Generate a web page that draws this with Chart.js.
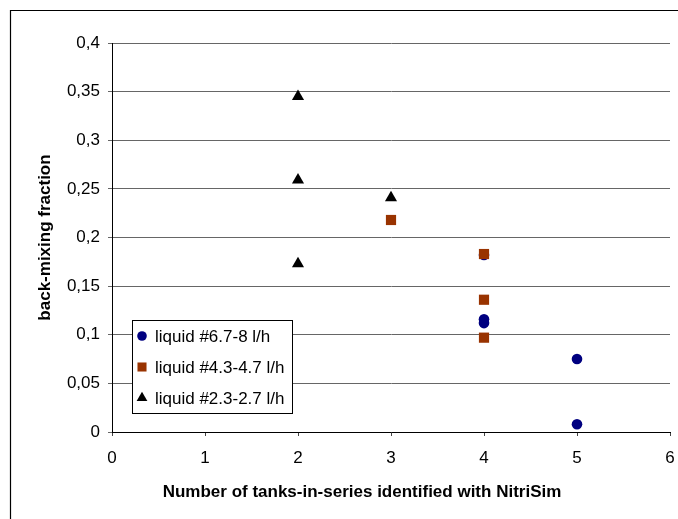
<!DOCTYPE html>
<html><head><meta charset="utf-8">
<script src="https://cdn.jsdelivr.net/npm/chart.js@4.4.1/dist/chart.umd.min.js"></script>
<style>html,body{margin:0;padding:0;background:#fff;} #wrap{width:678px;height:519px;position:relative;overflow:hidden}</style>
</head><body><div id="wrap"><canvas id="c" width="678" height="519"></canvas></div>
<script>
const seriesLabels = ['liquid #6.7-8 l/h', 'liquid #4.3-4.7 l/h', 'liquid #2.3-2.7 l/h'];
const highX = [4, 4, 4, 5, 5];
const highY = [0.182, 0.116, 0.112, 0.075, 0.008];
const midX = [3, 4, 4, 4];
const midY = [0.218, 0.183, 0.136, 0.097];
const lowX = [2, 2, 2, 3];
const lowY = [0.345, 0.259, 0.173, 0.241];
const xTickLabels = ['0', '1', '2', '3', '4', '5', '6'];
const yTickLabels = ['0', '0,05', '0,1', '0,15', '0,2', '0,25', '0,3', '0,35', '0,4'];
const xTitle = 'Number of tanks-in-series identified with NitriSim';
const yTitle = 'back-mixing fraction';

const FONT = '"Liberation Sans", Arial, sans-serif';
const toPts = (xs, ys) => xs.map((x, i) => ({x: x, y: ys[i]}));

const frame = {
  id: 'frame',
  beforeDraw(chart) {
    const ctx = chart.ctx;
    ctx.save();
    ctx.strokeStyle = '#000';
    ctx.lineWidth = 1.2;
    ctx.beginPath();
    ctx.moveTo(10.5, 530);
    ctx.lineTo(10.5, 10.5);
    ctx.lineTo(690, 10.5);
    ctx.stroke();
    ctx.restore();
  },
  afterDraw(chart) {
    const ctx = chart.ctx;
    const a = chart.chartArea;
    ctx.save();
    // x axis title
    ctx.fillStyle = '#000';
    ctx.font = 'bold 17px ' + FONT;
    ctx.textAlign = 'center';
    ctx.textBaseline = 'middle';
    ctx.fillText(xTitle, a.left + 250, a.bottom + 60);
    // legend
    const lx = a.left + 20, ly = a.top + 277, lw = 160, lh = 93;
    ctx.fillStyle = '#fff';
    ctx.fillRect(lx, ly, lw, lh);
    ctx.strokeStyle = '#000';
    ctx.lineWidth = 1;
    ctx.strokeRect(lx + 0.5, ly + 0.5, lw, lh);
    const radii = [4.8, 6.4, 6.2];
    chart.data.datasets.forEach((ds, i) => {
      const cy = ly + 16 + i * 31;
      const cx = lx + 10;
      ctx.fillStyle = ds.backgroundColor;
      ctx.strokeStyle = ds.backgroundColor;
      if (Chart.helpers && Chart.helpers.drawPoint) {
        Chart.helpers.drawPoint(ctx, {pointStyle: ds.pointStyle, radius: radii[i], borderWidth: 0, rotation: 0}, cx, cy);
      }
      ctx.fillStyle = '#000';
      ctx.font = '17px ' + FONT;
      ctx.textAlign = 'left';
      ctx.textBaseline = 'middle';
      ctx.fillText(ds.label, lx + 23, cy + 1);
    });
    ctx.restore();
  }
};

new Chart(document.getElementById('c'), {
  type: 'scatter',
  data: {
    datasets: [
      {label: seriesLabels[0], data: toPts(highX, highY), pointStyle: 'circle', pointRadius: 5.3, pointHoverRadius: 5.3,
       backgroundColor: '#000080', borderColor: '#000080', borderWidth: 0, order: 3},
      {label: seriesLabels[1], data: toPts(midX, midY), pointStyle: 'rect', pointRadius: 7.2, pointHoverRadius: 7.2,
       backgroundColor: '#993300', borderColor: '#993300', borderWidth: 0, order: 2},
      {label: seriesLabels[2], data: toPts(lowX, lowY), pointStyle: 'triangle', pointRadius: 7, pointHoverRadius: 7,
       backgroundColor: '#000000', borderColor: '#000000', borderWidth: 0, order: 1}
    ]
  },
  options: {
    responsive: false,
    animation: false,
    devicePixelRatio: 1,
    layout: {padding: {left: 0, top: 43, right: 8, bottom: 0}},
    plugins: {legend: {display: false}, tooltip: {enabled: false}, title: {display: false}},
    scales: {
      x: {
        type: 'linear', min: 0, max: 6,
        afterFit(s) { s.height = 87; s.paddingRight = 5; s.paddingLeft = 0; },
        afterBuildTicks(s) { s.ticks = xTickLabels.map((t, i) => ({value: i})); },
        ticks: {stepSize: 1, autoSkip: false, maxRotation: 0, color: '#000', padding: 12,
                font: {family: FONT, size: 17},
                callback: (v, i) => xTickLabels[i]},
        grid: {drawOnChartArea: false, drawTicks: true, tickLength: 4, color: '#444'},
        border: {display: true, color: '#000', width: 1},
        title: {display: false}
      },
      y: {
        type: 'linear', min: 0, max: 0.4,
        afterFit(s) { s.width = 112; s.paddingTop = 0; s.paddingBottom = 0; },
        afterBuildTicks(s) { s.ticks = yTickLabels.map((t, i) => ({value: i * 0.05})); },
        ticks: {stepSize: 0.05, autoSkip: false, color: '#000', padding: 8,
                font: {family: FONT, size: 17},
                callback: (v, i) => yTickLabels[i]},
        grid: {drawOnChartArea: true, drawTicks: true, tickLength: 4, color: '#666', lineWidth: 1},
        border: {display: true, color: '#000', width: 1},
        title: {display: true, text: yTitle, color: '#000', font: {family: FONT, size: 17, weight: 'bold'},
                padding: {top: 35, bottom: 0}}
      }
    }
  },
  plugins: [frame]
});
</script>
</body></html>
